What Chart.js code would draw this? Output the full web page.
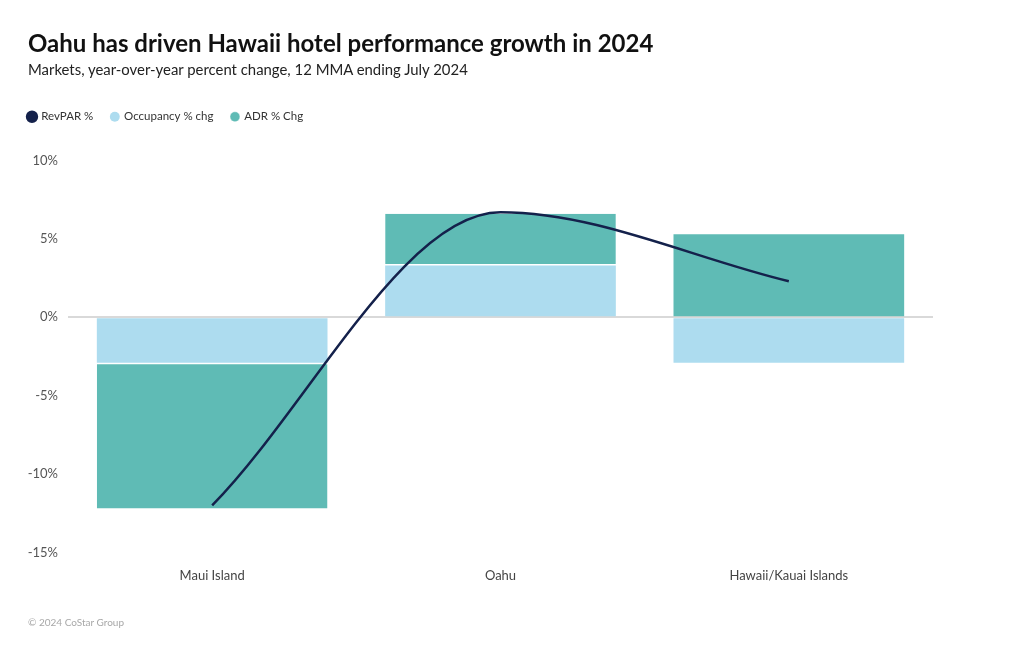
<!DOCTYPE html>
<html>
<head>
<meta charset="utf-8">
<script src="https://cdn.jsdelivr.net/npm/chart.js@4.4.1/dist/chart.umd.min.js"></script>
<style>
  body { margin: 0; background: #fff; font-family: Lato, "Noto Sans", sans-serif; }
  #wrap { position: relative; width: 1020px; height: 650px; }
  #Chart { position: absolute; left: 0; top: 0; }
  .title { position: absolute; left: 28px; top: 28px; font-size: 24px; font-weight: 700; color: #111; }
  .subtitle { position: absolute; left: 28px; top: 60px; font-size: 14.9px; color: #222; }
  .footer { position: absolute; left: 28px; top: 616px; font-size: 10px; color: #a8a8a8; }
</style>
</head>
<body>
<div id="wrap">
  <canvas id="Chart" width="1020" height="650"></canvas>
  <div class="title">Oahu has driven Hawaii hotel performance growth in 2024</div>
  <div class="subtitle">Markets, year-over-year percent change, 12 MMA ending July 2024</div>
  <div class="footer">© 2024 CoStar Group</div>
</div>
<script>
// данные
var markets = ['Maui Island', 'Oahu', 'Hawaii/Kauai Islands'];
var revparChg = [-12.0, 6.7, 2.3];
var occupancyChg = [-2.9, 3.3, -2.9];
var adrChg = [-9.3, 3.3, 5.3];
var yTicks = [10, 5, 0, -5, -10, -15];

var context = document.getElementById('Chart').getContext('2d');

// отступ под легендой
var legendGap = {
    id: 'legendGap',
    beforeInit: function (chart) {
        var fit = chart.legend.fit;
        chart.legend.fit = function () {
            fit.bind(chart.legend)();
            this.height += 28;
        };
    }
};

// белая линия между сегментами стека (только если сегменты одного знака)
function splitBorder(ctx) {
    var v = ctx.raw;
    var occ = occupancyChg[ctx.dataIndex];
    var none = { top: 0, bottom: 0, left: 0, right: 0 };
    if (v === undefined || occ === undefined || (v >= 0) !== (occ >= 0)) {
        return none;
    }
    return v >= 0 ? { top: 0, bottom: 1.5, left: 0, right: 0 } : { top: 1.5, bottom: 0, left: 0, right: 0 };
}

var data = {
    labels: markets,
    datasets: [{
        type: 'line',
        label: 'RevPAR %',
        data: revparChg,
        borderColor: '#14214b',
        backgroundColor: '#14214b',
        borderWidth: 2.5,
        cubicInterpolationMode: 'monotone',
        pointRadius: 0,
        pointStyle: 'circle',
        stack: 'rev',
        order: 0
    }, {
        type: 'bar',
        label: 'Occupancy % chg',
        data: occupancyChg,
        backgroundColor: '#addcef',
        borderWidth: 0,
        stack: 'bars',
        order: 1,
        barPercentage: 0.8,
        categoryPercentage: 1
    }, {
        type: 'bar',
        label: 'ADR % Chg',
        data: adrChg,
        backgroundColor: '#5fbbb5',
        borderColor: '#ffffff',
        borderWidth: splitBorder,
        borderSkipped: false,
        stack: 'bars',
        order: 1,
        barPercentage: 0.8,
        categoryPercentage: 1
    }]
};

var options = {
    responsive: false,
    animation: false,
    layout: {
        padding: { left: 10.5, right: 87, top: 93, bottom: 58 }
    },
    scales: {
        x: {
            stacked: true,
            grid: { display: false },
            border: { display: false },
            ticks: { color: '#444', font: { family: 'Lato', size: 13 }, padding: 8 }
        },
        y: {
            stacked: true,
            min: -15,
            max: 10,
            afterFit: function (scale) { scale.width = 57.5; },
            afterBuildTicks: function (scale) {
                scale.ticks = yTicks.map(function (v) { return { value: v }; });
            },
            border: { display: false },
            grid: {
                drawTicks: false,
                lineWidth: function (ctx) { return ctx.tick && ctx.tick.value === 0 ? 2 : 0; },
                color: '#d9d9d9'
            },
            ticks: {
                color: '#555',
                font: { family: 'Lato', size: 13 },
                padding: 10,
                callback: function (v) { return v + '%'; }
            }
        }
    },
    plugins: {
        legend: {
            display: true,
            align: 'start',
            labels: {
                usePointStyle: true,
                pointStyle: 'circle',
                boxWidth: 7,
                boxHeight: 7,
                padding: 18,
                color: '#333',
                font: { family: 'Lato', size: 11.5 }
            }
        },
        tooltip: { enabled: false }
    }
};

var myChart = new Chart(context, {
    data: data,
    options: options,
    plugins: [legendGap]
});
</script>
</body>
</html>
